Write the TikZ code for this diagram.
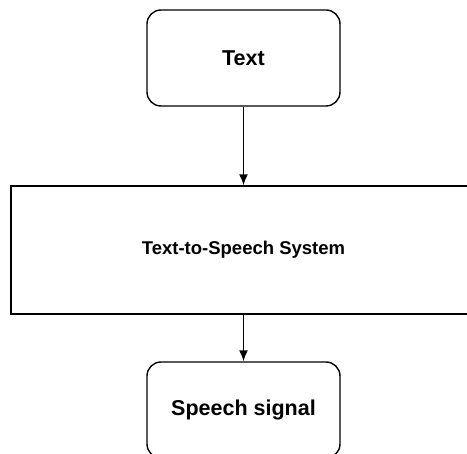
\documentclass[tikz,border=0pt]{standalone}
\usepackage{fontspec}
\setmainfont{Liberation Sans}
\usetikzlibrary{arrows.meta}
\tikzset{>={Latex[length=11pt,width=9pt]}}
\tikzset{
  endbox/.style={draw, rounded corners=14pt, line width=1.4pt, minimum width=193pt,
    minimum height=96pt, inner sep=0pt, font=\bfseries\fontsize{21.5}{25}\selectfont},
  sysbox/.style={draw, line width=1.4pt, minimum width=465pt, minimum height=128pt,
    inner sep=0pt, font=\bfseries\fontsize{18.5}{22}\selectfont},
  flow/.style={line width=1.6pt, ->}
}

\begin{document}
\begin{tikzpicture}[x=1pt, y=-1pt]
\useasboundingbox (0,0) rectangle (467,454);
\node[endbox] (txt) at (243.5,58) {Text};
\node[sysbox] (tts) at (243.5,250) {Text-to-Speech System};
\node[endbox] (speech) at (243.5,410) {Speech signal};
\draw[flow] (txt) -- (tts);
\draw[flow] (tts) -- (speech);
\end{tikzpicture}
\end{document}
